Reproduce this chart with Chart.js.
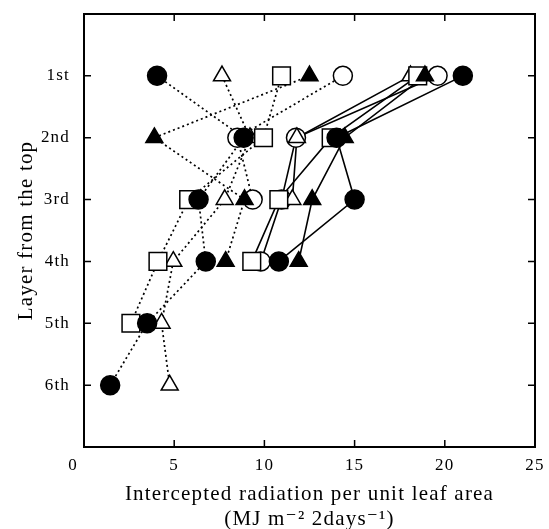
<!DOCTYPE html>
<html>
<head>
<meta charset="utf-8">
<script src="https://cdn.jsdelivr.net/npm/chart.js@4.4.1/dist/chart.umd.min.js"></script>
<style>
  html, body { margin: 0; padding: 0; background: #fff; }
  #wrap { width: 549px; height: 529px; }
</style>
</head>
<body>
<div id="wrap"><canvas id="chart"></canvas></div>
<script>
// layers (y) and x ticks
const layerLabels = ['1st', '2nd', '3rd', '4th', '5th', '6th']
const xTicks = [0, 5, 10, 15, 20, 25]

// dotted series, values from the 1st layer down
const dotFilledCircle   = [4.05, 8.85, 6.35, 6.75, 3.5, 1.45]
const dotOpenTriangle   = [7.65, 9.2, 7.8, 4.95, 4.3, 4.75]
const dotOpenSquare     = [10.95, 9.95, 5.8, 4.1, 2.6]
const dotFilledTriangle = [12.5, 3.9, 8.9, 7.85]
const dotOpenCircle     = [14.35, 8.5, 9.35]

// solid series
const solFilledCircle   = [21.0, 14.0, 15.0, 10.8]
const solFilledTriangle = [18.9, 14.45, 12.65, 11.9]
const solOpenSquare     = [18.5, 13.7, 10.8, 9.3]
const solOpenTriangle   = [18.1, 11.8, 11.55]
const solOpenCircle     = [19.6, 11.75, 10.95, 9.8]

const toPoints = vals => vals.map((v, i) => ({ x: v, y: i + 1 }))

// marker look: style, filled, stacking (lower = on top)
const markers = {
  filledCircle:   { style: 'circle',   radius: 9.5,  filled: true,  order: 1 },
  filledTriangle: { style: 'triangle', radius: 9.8,  filled: true,  order: 2 },
  openSquare:     { style: 'rect',     radius: 12.5, filled: false, order: 3 },
  openTriangle:   { style: 'triangle', radius: 9.8,  filled: false, order: 4 },
  openCircle:     { style: 'circle',   radius: 9.5,  filled: false, order: 5 },
}

const series = [
  { vals: dotFilledCircle,   m: 'filledCircle',   dotted: true },
  { vals: dotOpenTriangle,   m: 'openTriangle',   dotted: true },
  { vals: dotOpenSquare,     m: 'openSquare',     dotted: true },
  { vals: dotFilledTriangle, m: 'filledTriangle', dotted: true },
  { vals: dotOpenCircle,     m: 'openCircle',     dotted: true },
  { vals: solFilledCircle,   m: 'filledCircle',   dotted: false },
  { vals: solFilledTriangle, m: 'filledTriangle', dotted: false },
  { vals: solOpenSquare,     m: 'openSquare',     dotted: false },
  { vals: solOpenTriangle,   m: 'openTriangle',   dotted: false },
  { vals: solOpenCircle,     m: 'openCircle',     dotted: false },
]

// lines first (underneath), markers on top
const lineSets = series.map(s => ({
  data: toPoints(s.vals),
  showLine: true,
  borderColor: '#000',
  borderWidth: s.dotted ? 1.7 : 1.6,
  borderDash: s.dotted ? [2, 3] : [],
  pointRadius: 0,
  order: 10,
}))
const pointSets = series.map(s => {
  const mk = markers[s.m]
  return {
    data: toPoints(s.vals),
    showLine: false,
    pointStyle: mk.style,
    pointRadius: mk.radius,
    pointBackgroundColor: mk.filled ? '#000' : '#fff',
    pointBorderColor: '#000',
    pointBorderWidth: 1.5,
    order: mk.order,
  }
})

const serif = "'Liberation Serif', 'DejaVu Serif', serif"
const tickLen = 7

// frame with inward ticks on all four sides
const frame = {
  id: 'frame',
  beforeDraw(chart) { chart.ctx.letterSpacing = '1.2px' },
  afterDraw(chart) { chart.ctx.letterSpacing = '0px' },
  afterDatasetsDraw(chart) {
    const { ctx, chartArea: a, scales: { x, y } } = chart
    ctx.save()
    ctx.strokeStyle = '#000'
    ctx.lineWidth = 1.5
    ctx.beginPath()
    xTicks.slice(1, -1).forEach(v => {
      const px = x.getPixelForValue(v)
      ctx.moveTo(px, a.bottom); ctx.lineTo(px, a.bottom - tickLen)
      ctx.moveTo(px, a.top); ctx.lineTo(px, a.top + tickLen)
    })
    layerLabels.forEach((_, i) => {
      const py = y.getPixelForValue(i + 1)
      ctx.moveTo(a.left, py); ctx.lineTo(a.left + tickLen, py)
      ctx.moveTo(a.right, py); ctx.lineTo(a.right - tickLen, py)
    })
    ctx.stroke()
    ctx.lineWidth = 2
    ctx.strokeRect(a.left, a.top, a.right - a.left, a.bottom - a.top)
    ctx.restore()
  }
}

new Chart(document.getElementById('chart'), {
  type: 'scatter',
  data: { datasets: [...lineSets, ...pointSets] },
  options: {
    responsive: true,
    maintainAspectRatio: false,
    animation: false,
    events: [],
    layout: { padding: { top: 13, right: 11, left: 0, bottom: 0 } },
    plugins: { legend: { display: false }, tooltip: { enabled: false } },
    scales: {
      x: {
        type: 'linear',
        min: 0,
        max: 25,
        grid: { display: false },
        border: { display: false },
        ticks: {
          stepSize: 5,
          padding: 0,
          color: '#000',
          font: { family: serif, size: 17 },
          maxRotation: 0,
          // the 0 label sits a little left of the axis in the original
          callback: v => v === 0 ? '0\u00a0\u00a0\u00a0\u00a0' : String(v),
        },
        title: {
          display: true,
          text: ['Intercepted radiation per unit leaf area', '(MJ m\u207b\u00b2 2days\u207b\u00b9)'],
          color: '#000',
          font: { family: serif, size: 21, lineHeight: 1.2 },
          padding: { top: 0, bottom: -3 },
        },
        afterFit: s => { s.height = 82; s.paddingLeft = 0; s.paddingRight = 0 },
      },
      y: {
        type: 'linear',
        min: 0,
        max: 7,
        reverse: true,
        grid: { display: false },
        border: { display: false },
        ticks: {
          stepSize: 1,
          padding: 6,
          color: '#000',
          font: { family: serif, size: 17 },
          callback: v => layerLabels[v - 1] ?? '',
        },
        title: {
          display: true,
          text: 'Layer from the top',
          color: '#000',
          font: { family: serif, size: 21, lineHeight: 1.2 },
          padding: { top: 14, bottom: 0 },
        },
        afterFit: s => { s.width = 84; s.paddingTop = 0; s.paddingBottom = 0 },
      },
    },
  },
  plugins: [frame],
})
</script>
</body>
</html>
